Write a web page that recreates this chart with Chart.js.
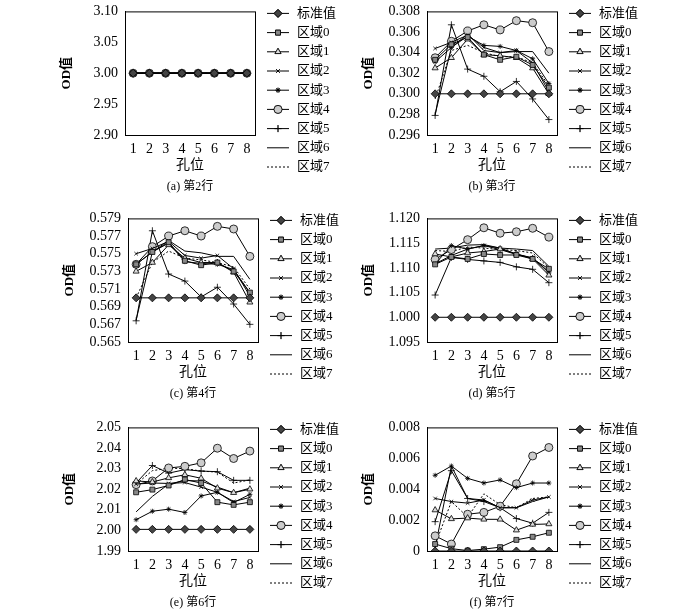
<!DOCTYPE html>
<html>
<head>
<meta charset="utf-8">
<script src="https://cdn.jsdelivr.net/npm/chart.js@4.4.1/dist/chart.umd.min.js"></script>
<style>
  body { margin: 0; background: #fff; }
  #wrap { position: relative; width: 700px; height: 612px; overflow: hidden; }
  .panel { position: absolute; width: 300px; height: 200px; }
</style>
</head>
<body>
<div id="wrap">
  <div class="panel" style="left:45px;top:0px"><canvas id="pa"></canvas></div>
  <div class="panel" style="left:347px;top:0px"><canvas id="pb"></canvas></div>
  <div class="panel" style="left:48px;top:207px"><canvas id="pc"></canvas></div>
  <div class="panel" style="left:347px;top:207px"><canvas id="pd"></canvas></div>
  <div class="panel" style="left:48px;top:416px"><canvas id="pe"></canvas></div>
  <div class="panel" style="left:347px;top:416px"><canvas id="pf"></canvas></div>
</div>
<script>
/* ---------- data ---------- */
const holes = ["1", "2", "3", "4", "5", "6", "7", "8"];
const seriesNames = ["标准值", "区域0", "区域1", "区域2", "区域3", "区域4", "区域5", "区域6", "区域7"];

// (a) row 2
const rowA = [
  [3, 3, 3, 3, 3, 3, 3, 3],
  [3, 3, 3, 3, 3, 3, 3, 3],
  [3, 3, 3, 3, 3, 3, 3, 3],
  [3, 3, 3, 3, 3, 3, 3, 3],
  [3, 3, 3, 3, 3, 3, 3, 3],
  [3, 3, 3, 3, 3, 3, 3, 3],
  [3, 3, 3, 3, 3, 3, 3, 3],
  [3, 3, 3, 3, 3, 3, 3, 3],
  [3, 3, 3, 3, 3, 3, 3, 3]
];
// (b) row 3
const rowB = [
  [0.300, 0.300, 0.300, 0.300, 0.300, 0.300, 0.300, 0.300],
  [0.3033, 0.3048, 0.3055, 0.3038, 0.3033, 0.3036, 0.3028, 0.3006],
  [0.3025, 0.3035, 0.3053, 0.3038, 0.3037, 0.3035, 0.3025, 0.3000],
  [0.3044, 0.3050, 0.3057, 0.3045, 0.3040, 0.3042, 0.3030, 0.3002],
  [0.3031, 0.3045, 0.3056, 0.3047, 0.3046, 0.3042, 0.3034, 0.3010],
  [0.3035, 0.3051, 0.3061, 0.3067, 0.3062, 0.3071, 0.3069, 0.3041],
  [0.2979, 0.3067, 0.3024, 0.3017, 0.3002, 0.3012, 0.2995, 0.2975],
  [0.2980, 0.3045, 0.3058, 0.3042, 0.3040, 0.3041, 0.3041, 0.3020],
  [0.2995, 0.3042, 0.3047, 0.3040, 0.3036, 0.3036, 0.3030, 0.3008]
];
// (c) row 4
const rowC = [
  [0.570, 0.570, 0.570, 0.570, 0.570, 0.570, 0.570, 0.570],
  [0.5738, 0.5752, 0.5763, 0.5742, 0.5737, 0.5740, 0.5730, 0.5706],
  [0.5730, 0.5740, 0.5760, 0.5745, 0.5740, 0.5740, 0.5729, 0.5695],
  [0.5750, 0.5756, 0.5764, 0.5748, 0.5745, 0.5748, 0.5733, 0.5702],
  [0.5738, 0.5752, 0.5762, 0.5741, 0.5739, 0.5738, 0.5732, 0.5706],
  [0.5738, 0.5758, 0.5770, 0.5776, 0.5770, 0.5781, 0.5778, 0.5747],
  [0.5674, 0.5776, 0.5727, 0.5719, 0.5701, 0.5712, 0.5693, 0.5670],
  [0.5675, 0.5752, 0.5765, 0.5753, 0.5751, 0.5747, 0.5747, 0.5721],
  [0.5700, 0.5740, 0.5753, 0.5745, 0.5743, 0.5740, 0.5735, 0.5710]
];
// (d) row 5
const rowD = [
  [1.100, 1.100, 1.100, 1.100, 1.100, 1.100, 1.100, 1.100],
  [1.1107, 1.1122, 1.1118, 1.1128, 1.1126, 1.1126, 1.1118, 1.1098],
  [1.1128, 1.1122, 1.1130, 1.1133, 1.1138, 1.1128, 1.1118, 1.1085],
  [1.1108, 1.1125, 1.1138, 1.1145, 1.1140, 1.1128, 1.1120, 1.1092],
  [1.1108, 1.1145, 1.1138, 1.1145, 1.1137, 1.1127, 1.1120, 1.1090],
  [1.1117, 1.1137, 1.1157, 1.1181, 1.1170, 1.1173, 1.1180, 1.1162],
  [1.1045, 1.1121, 1.1117, 1.1114, 1.1111, 1.1102, 1.1097, 1.1070],
  [1.1138, 1.1140, 1.1146, 1.1147, 1.1140, 1.1138, 1.1135, 1.1103],
  [1.1135, 1.1133, 1.1142, 1.1140, 1.1137, 1.1135, 1.1130, 1.1100]
];
// (e) row 6
const rowE = [
  [2.0005, 2.0005, 2.0005, 2.0005, 2.0005, 2.0005, 2.0005, 2.0005],
  [2.0185, 2.0198, 2.0218, 2.0247, 2.0230, 2.0137, 2.0124, 2.0137],
  [2.0240, 2.0235, 2.0255, 2.0270, 2.0253, 2.0205, 2.0183, 2.0200],
  [2.0225, 2.0230, 2.0228, 2.0232, 2.0210, 2.0185, 2.0140, 2.0160],
  [2.0052, 2.0093, 2.0103, 2.0087, 2.0167, 2.0185, 2.0135, 2.0175],
  [2.0222, 2.0240, 2.0303, 2.0311, 2.0328, 2.0399, 2.0349, 2.0385],
  [2.0230, 2.0315, 2.0278, 2.0295, 2.0288, 2.0285, 2.0243, 2.0243],
  [2.0090, 2.0165, 2.0225, 2.0242, 2.0240, 2.0210, 2.0183, 2.0205],
  [2.0225, 2.0290, 2.0302, 2.0300, 2.0288, 2.0283, 2.0230, 2.0245]
];
// (f) row 7
const rowF = [
  [0, 0, 0, 0, 0, 0, 0, 0],
  [0.00045, 0.00015, 0.00003, 0.00012, 0.00025, 0.00072, 0.00092, 0.00118],
  [0.00265, 0.00208, 0.00213, 0.00205, 0.00205, 0.00135, 0.00172, 0.00175],
  [0.0034, 0.0032, 0.0031, 0.0033, 0.0028, 0.0028, 0.0033, 0.0035],
  [0.0049, 0.0055, 0.0047, 0.0044, 0.0046, 0.0041, 0.0044, 0.0044],
  [0.00098, 0.00045, 0.00238, 0.0025, 0.0029, 0.00435, 0.00615, 0.0067],
  [0.0019, 0.0052, 0.0034, 0.0032, 0.0028, 0.0021, 0.0018, 0.0025],
  [0.0002, 0.0055, 0.0034, 0.0033, 0.0028, 0.0028, 0.0032, 0.0035],
  [0.0004, 0.0032, 0.0022, 0.0037, 0.0030, 0.0028, 0.0034, 0.0035]
];

/* ---------- styles ---------- */
const FONT = '"Liberation Serif", "Noto Sans CJK SC", serif';
const markers = [
  { style: "rectRot", r: 4, fill: "#444" },
  { style: "rect", r: 3.5, fill: "#888" },
  { style: "triangle", r: 3.5, fill: "#ddd" },
  { style: "crossRot", r: 2.5, fill: "#000" },
  { style: "star", r: 2.5, fill: "#000" },
  { style: "circle", r: 4, fill: "#ccc" },
  { style: "cross", r: 3.5, fill: "#000" },
  { style: false, r: 0, fill: "#000" },
  { style: false, r: 0, fill: "#000" }
];

/* legend, captions, box, titles drawn by hand */
const decorPlugin = {
  id: "decor",
  afterDraw(chart, args, opts) {
    const { ctx, chartArea: a } = chart;
    ctx.save();
    ctx.strokeStyle = "#000";
    ctx.lineWidth = 1;
    ctx.strokeRect(a.left + 0.5, a.top + 0.5, a.right - a.left, a.bottom - a.top);

    ctx.fillStyle = "#000";
    ctx.textAlign = "center";
    ctx.textBaseline = "middle";
    ctx.font = "14px " + FONT;
    ctx.fillText("孔位", (a.left + a.right) / 2, a.bottom + 30);
    ctx.font = "12px " + FONT;
    ctx.fillText(opts.caption, (a.left + a.right) / 2, a.bottom + 52);

    ctx.save();
    ctx.translate(a.left - 58, (a.top + a.bottom) / 2);
    ctx.rotate(-Math.PI / 2);
    ctx.font = "bold 13px " + FONT;
    ctx.fillText("OD值", 0, 0);
    ctx.restore();

    // legend
    const lx = a.right + 12, step = 19.2;
    chart.data.datasets.forEach((ds, i) => {
      const y = a.top + 2 + i * step;
      ctx.beginPath();
      ctx.setLineDash(i === 8 ? [2, 2] : []);
      ctx.moveTo(lx, y);
      ctx.lineTo(lx + 22, y);
      ctx.stroke();
      ctx.setLineDash([]);
      const m = markers[i];
      if (m.style) {
        ctx.fillStyle = m.fill;
        ctx.lineWidth = 0.8;
        Chart.helpers.drawPoint(ctx, { pointStyle: m.style, radius: m.r, borderWidth: 0.8 }, lx + 11, y);
        ctx.fill();
        ctx.stroke();
        ctx.lineWidth = 1;
      }
      ctx.fillStyle = "#000";
      ctx.textAlign = "left";
      ctx.font = "13px " + FONT;
      ctx.fillText(ds.label, lx + 30, y);
    });
    ctx.restore();
  }
};

function makePanel(id, rows, yMin, yMax, yStep, caption, tickFmt) {
  const datasets = rows.map((vals, i) => ({
    label: seriesNames[i],
    data: vals,
    borderColor: "#000",
    borderWidth: 1,
    borderDash: i === 8 ? [2, 2] : [],
    pointStyle: markers[i].style,
    pointRadius: markers[i].r,
    pointBackgroundColor: markers[i].fill,
    pointBorderColor: "#000",
    pointBorderWidth: 0.8,
    tension: 0
  }));
  return new Chart(document.getElementById(id), {
    type: "line",
    data: { labels: holes, datasets },
    options: {
      responsive: true,
      maintainAspectRatio: false,
      animation: false,
      layout: { padding: { top: 8, right: 90, left: 0, bottom: 0 } },
      plugins: { legend: { display: false }, tooltip: { enabled: false }, decor: { caption } },
      scales: {
        x: {
          offset: true,
          grid: { display: false, drawTicks: true, tickLength: 4 },
          border: { color: "#000" },
          ticks: { color: "#000", font: { family: FONT, size: 14 }, padding: 2, maxRotation: 0 },
          afterFit: s => { s.height = 65; }
        },
        y: {
          min: yMin, max: yMax,
          grid: { display: false, drawTicks: true, tickLength: 4 },
          border: { color: "#000" },
          ticks: { stepSize: yStep, autoSkip: false, color: "#000", font: { family: FONT, size: 14 }, callback: tickFmt },
          afterFit: s => { s.width = 80; }
        }
      }
    },
    plugins: [decorPlugin]
  });
}

const fix = d => v => v.toFixed(d);
makePanel("pa", rowA, 2.90, 3.10, 0.05, "(a) 第2行", fix(2));
makePanel("pb", rowB, 0.296, 0.308, 0.002, "(b) 第3行", fix(3));
makePanel("pc", rowC, 0.565, 0.579, 0.002, "(c) 第4行", fix(3));
makePanel("pd", rowD, 1.095, 1.120, 0.005, "(d) 第5行", v => Math.abs(v - 1.1) < 1e-6 ? "1.000" : v.toFixed(3));
makePanel("pe", rowE, 1.99, 2.05, 0.01, "(e) 第6行", fix(2));
makePanel("pf", rowF, 0, 0.008, 0.002, "(f) 第7行", v => v === 0 ? "0" : v.toFixed(3));
</script>
</body>
</html>
